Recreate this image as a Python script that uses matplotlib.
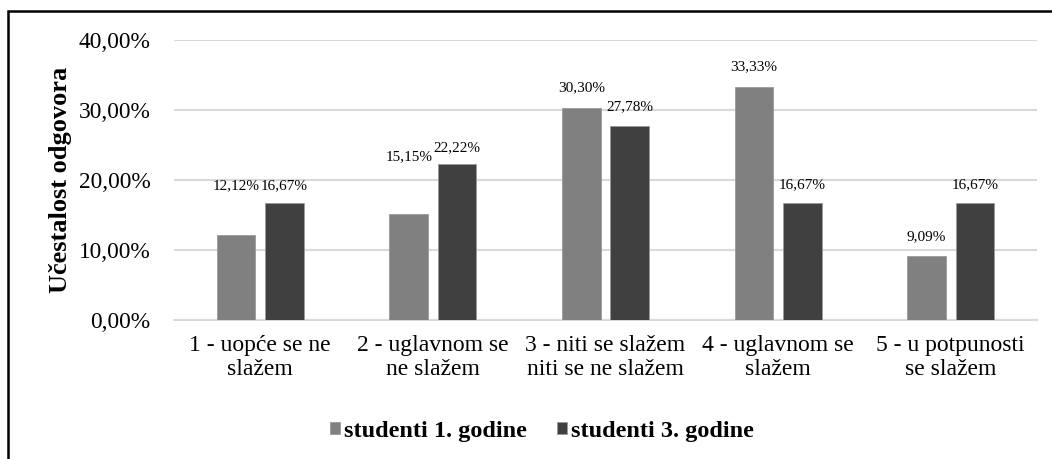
import numpy as np
import matplotlib.pyplot as plt
from matplotlib.patches import Rectangle
from matplotlib.ticker import FuncFormatter

categories = ['1 - uopće se ne\nslažem', '2 - uglavnom se\nne slažem',
              '3 - niti se slažem\nniti se ne slažem', '4 - uglavnom se\nslažem',
              '5 - u potpunosti\nse slažem']
series_names = ['studenti 1. godine', 'studenti 3. godine']
prva_godina = [12.12, 15.15, 30.30, 33.33, 9.09]
treca_godina = [16.67, 22.22, 27.78, 16.67, 16.67]

# pomak oznaka iznad stupaca (u pikselima), neke su rucno podignute
label_lift_1 = [49, 57, 20, 20, 20]
label_lift_2 = [18, 17, 19, 19, 19]

FONT = ['Liberation Serif', 'DejaVu Serif']
plt.rcParams['font.family'] = FONT

fig = plt.figure(figsize=(10.52, 4.59), dpi=100)
ax = fig.add_axes([174 / 1052, 1 - 320 / 459, 863 / 1052, 280 / 459])

x = np.arange(len(categories))
w = 0.223
off = 0.14
colors = ['#808080', '#404040']

for vals, lifts, dx, col, name in [(prva_godina, label_lift_1, -off, colors[0], series_names[0]),
                                   (treca_godina, label_lift_2, off, colors[1], series_names[1])]:
    ax.bar(x + dx, vals, w, color=col, edgecolor='#9a9a9a', linewidth=0.6, label=name, zorder=3)
    for xi, v, lift in zip(x + dx, vals, lifts):
        ax.annotate(f'{v:.2f}%'.replace('.', ','), (xi, v), xytext=(0, lift * 0.72),
                    textcoords='offset points', ha='center', va='center',
                    fontsize=11, family=FONT)

ax.set_xlim(-0.5, len(categories) - 0.5)
ax.set_ylim(0, 40)
ax.set_yticks([0, 10, 20, 30, 40])
ax.yaxis.set_major_formatter(FuncFormatter(lambda v, p: f'{v:.2f}%'.replace('.', ',')))
ax.set_xticks(x)
ax.set_xticklabels(categories, fontsize=17, linespacing=1.15, family=FONT)
for t in ax.get_yticklabels():
    t.set_family(FONT)
ax.tick_params(axis='y', length=0, pad=17, labelsize=16.8)
ax.tick_params(axis='x', length=0, pad=11)
ax.grid(axis='y', color='#d9d9d9', linewidth=1.5, zorder=0)
for s in ['top', 'right', 'left']:
    ax.spines[s].set_visible(False)
ax.spines['bottom'].set_color('#d9d9d9')
ax.spines['bottom'].set_linewidth(1.5)

ax.set_ylabel('Učestalost odgovora', fontsize=19, fontweight='bold', family=FONT)
ax.yaxis.set_label_coords(-(174 - 72) / 863, 0.5)

fig.legend(loc='center', bbox_to_anchor=(542 / 1052, 1 - 431 / 459), ncol=2, frameon=False,
           prop={'weight': 'bold', 'size': 17.5, 'family': FONT}, handlelength=0.42,
           handleheight=0.42, handletextpad=0.15, columnspacing=1.25)

# ram oko grafikona (vidljivi samo lijevi i gornji rub)
fig.patches.append(Rectangle((8 / 1052, -0.1), 1.2, 1 - 11 / 459 + 0.1, transform=fig.transFigure,
                             fill=False, edgecolor='black', linewidth=1.8))

fig.savefig('out.png', dpi=100)
